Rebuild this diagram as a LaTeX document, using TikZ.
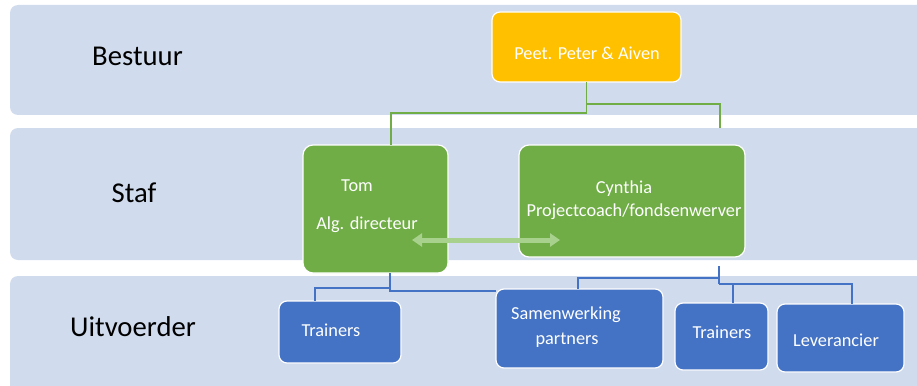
\documentclass[tikz,border=0pt]{standalone}
\usepackage{fontspec}
\setmainfont{Carlito}
\usetikzlibrary{arrows.meta}
\definecolor{band}{RGB}{208,219,237}
\definecolor{gold}{RGB}{255,192,0}
\definecolor{leaf}{RGB}{112,173,71}
\definecolor{sea}{RGB}{68,114,196}
\definecolor{pale}{RGB}{169,209,142}
\begin{document}
\begin{tikzpicture}[x=1pt,y=-1pt,
  laag/.style={fill=band,rounded corners=8pt},
  vak/.style={draw=white,line width=1.2pt,rounded corners=8pt,inner sep=0pt,outer sep=0pt},
  tekst/.style={text=white,anchor=base,font=\fontsize{18.3}{22}\selectfont},
  kop/.style={anchor=base,font=\fontsize{28.7}{34}\selectfont},
  groen/.style={draw=leaf,line width=1.3pt},
  blauw/.style={draw=sea,line width=1.6pt}]
\clip (0,0) rectangle (917,385);

% lagen
\fill [laag] (10,5) rectangle (940,115);
\fill [laag] (10,128) rectangle (940,260);
\fill [laag] (10,276) rectangle (940,420);

\node [kop] (lbestuur) at (137.5,66) {Bestuur};
\node [kop] (lstaf) at (134,202) {Staf};
\node [kop] (luitvoerder) at (133,336) {Uitvoerder};

% vakken
\node [vak,fill=gold,minimum width=189pt,minimum height=70pt] (bestuur) at (586.5,47) {};
\node [vak,fill=leaf,minimum width=145pt,minimum height=128pt,rounded corners=10pt] (tom) at (375.5,209) {};
\node [vak,fill=leaf,minimum width=226pt,minimum height=112pt,rounded corners=10pt] (cynthia) at (632,201) {};
\node [vak,fill=sea,minimum width=122pt,minimum height=62pt] (trainersa) at (340,332) {};
\node [vak,fill=sea,minimum width=167pt,minimum height=79pt] (samen) at (579.5,328.5) {};
\node [vak,fill=sea,minimum width=93pt,minimum height=67pt] (trainersb) at (721.5,336.5) {};
\node [vak,fill=sea,minimum width=127pt,minimum height=68pt] (lev) at (840.5,338) {};

\node [tekst] (tbestuur) at (587,60) {Peet. Peter \& Aiven};
\node [tekst] (ttom) at (357,191) {Tom};
\node [tekst] (ttomrol) at (367,229) {Alg. directeur};
\node [tekst] (tcyn) at (624,193) {Cynthia};
\node [tekst] (tcynrol) at (634,216) {Projectcoach/fondsenwerver};
\node [tekst] (ttra) at (331,336) {Trainers};
\node [tekst] (tsamen) at (566,319) {Samenwerking};
\node [tekst] (tpart) at (567,344) {partners};
\node [tekst] (ttrb) at (722,338) {Trainers};
\node [tekst] (tlev) at (836,346) {Leverancier};

% groene lijnen
\coordinate (g1) at (391,113);
\coordinate (g2) at (720,104);
\coordinate (g3) at (720,128);
\draw [groen] (bestuur.south) -- (bestuur.south |- g1) -- (g1) -- (tom.north -| g1);
\draw [groen] (bestuur.south |- g2) -- (g2) -- (g3);

% pijl
\coordinate (p1) at (412,240);
\coordinate (p2) at (560,240);
\draw [pale,line width=5pt,{Triangle[length=10pt,width=13pt]}-{Triangle[length=10pt,width=13pt]}] (p1) -- (p2);

% blauwe lijnen
\coordinate (b1) at (390,291);
\coordinate (b2) at (390,288);
\coordinate (b3) at (315,288);
\draw [blauw] (tom.south -| b1) -- (b1) -- (samen.west |- b1);
\draw [blauw] (b2) -- (b3) -- (trainersa.north -| b3);

\coordinate (c0) at (719,266);
\coordinate (c1) at (719,278);
\coordinate (c2) at (578,278);
\coordinate (c3) at (719,284);
\coordinate (c4) at (852,284);
\coordinate (c5) at (733,284);
\draw [blauw] (c0) -- (c3);
\draw [blauw] (c1) -- (c2) -- (samen.north -| c2);
\draw [blauw] (c3) -- (c4) -- (lev.north -| c4);
\draw [blauw] (c5) -- (trainersb.north -| c5);

\end{tikzpicture}
\end{document}
